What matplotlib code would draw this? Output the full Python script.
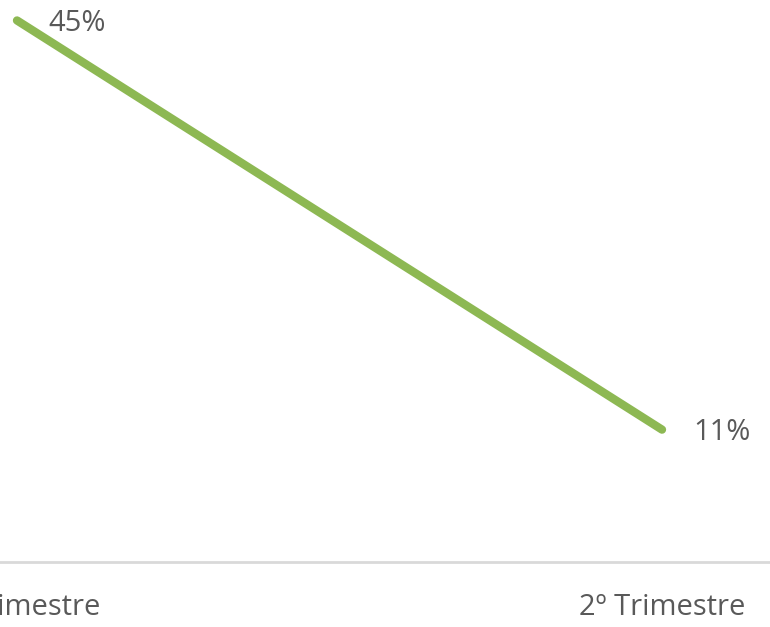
import matplotlib.pyplot as plt

categories = ['1º Trimestre', '2º Trimestre']
values = [45, 11]
labels = ['45%', '11%']

plt.rcParams['font.family'] = ['Open Sans', 'DejaVu Sans']

fig = plt.figure(figsize=(7.7, 6.27), dpi=100)
ax = fig.add_axes([0, 65 / 627, 1, 562 / 627])

x = list(range(len(categories)))
ax.plot(x, values, color='#8DB853', linewidth=6, solid_capstyle='round')

for xi, v, lab in zip(x, values, labels):
    ax.annotate(lab, (xi, v), xytext=(31, -3), textcoords='offset pixels',
                ha='left', va='center', fontsize=21, color='#595959')

ax.set_xlim(-17 / 645, 753 / 645)
ax.set_ylim(0, 46.7)
ax.set_xticks(x)
ax.set_xticklabels(categories, fontsize=21, color='#595959')
ax.tick_params(axis='x', length=0, pad=22)
ax.set_yticks([])
for side in ['top', 'right', 'left']:
    ax.spines[side].set_visible(False)
ax.spines['bottom'].set_color('#D9D9D9')
ax.spines['bottom'].set_linewidth(2)

fig.savefig('out.png', dpi=100)
